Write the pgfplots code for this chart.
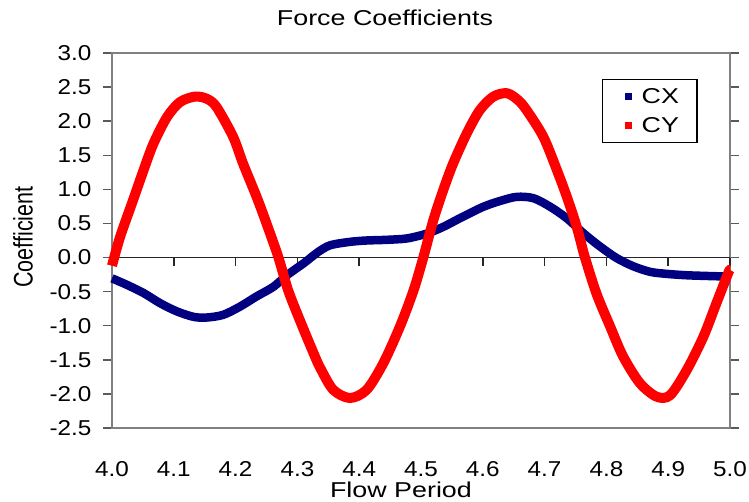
\documentclass[border=0pt]{standalone}
\usepackage{fontspec}
\setmainfont{Liberation Sans}
\newfontfamily\widefont{Liberation Sans}[FakeStretch=1.25]
\newfontfamily\tickfont{Liberation Sans}[FakeStretch=1.13]
\usepackage{pgfplots}
\pgfplotsset{compat=1.18}
\definecolor{cxblue}{HTML}{000080}
\definecolor{cyred}{HTML}{FF0000}
\definecolor{framegray}{HTML}{808080}

\pgfplotstableread{
t v
4.000 -0.12
4.013 0.30
4.034 0.84
4.051 1.28
4.067 1.67
4.089 2.06
4.110 2.28
4.134 2.36
4.153 2.33
4.169 2.21
4.196 1.77
4.212 1.38
4.234 0.89
4.250 0.50
4.269 0.01
4.285 -0.48
4.304 -0.92
4.326 -1.40
4.337 -1.62
4.358 -1.94
4.385 -2.06
4.412 -1.94
4.439 -1.55
4.466 -1.01
4.488 -0.48
4.504 0.01
4.520 0.55
4.536 0.99
4.552 1.38
4.574 1.82
4.595 2.16
4.617 2.36
4.639 2.41
4.657 2.31
4.671 2.16
4.698 1.77
4.720 1.28
4.736 0.89
4.752 0.45
4.765 0.01
4.784 -0.53
4.806 -1.01
4.827 -1.45
4.854 -1.84
4.881 -2.04
4.903 -2.02
4.930 -1.65
4.957 -1.16
4.978 -0.67
4.997 -0.23
5.000 -0.18
}\cydata

\pgfplotstableread{
t v
4.000 -0.305
4.024 -0.40
4.051 -0.52
4.078 -0.67
4.105 -0.79
4.132 -0.87
4.153 -0.88
4.180 -0.84
4.207 -0.72
4.234 -0.57
4.261 -0.43
4.283 -0.26
4.310 -0.085
4.326 0.03
4.334 0.085
4.353 0.18
4.385 0.23
4.412 0.25
4.445 0.26
4.477 0.28
4.509 0.35
4.536 0.45
4.568 0.60
4.601 0.745
4.628 0.83
4.655 0.89
4.682 0.87
4.709 0.745
4.736 0.575
4.763 0.355
4.790 0.16
4.817 -0.01
4.844 -0.13
4.871 -0.21
4.898 -0.24
4.930 -0.26
4.962 -0.27
5.000 -0.28
}\cxdata

\begin{document}
\begin{tikzpicture}[x=1pt,y=1pt]
\useasboundingbox (0,0) rectangle (749,502);
\begin{axis}[
  at={(112pt,74pt)}, anchor=south west,
  scale only axis, width=618pt, height=375pt,
  xmin=4, xmax=5, ymin=-2.5, ymax=3,
  clip=false,
  axis line style={framegray, line width=2.5pt},
  xtick={4,4.1,4.2,4.3,4.4,4.5,4.6,4.7,4.8,4.9,5},
  xticklabels={4.0,4.1,4.2,4.3,4.4,4.5,4.6,4.7,4.8,4.9,5.0},
  ytick={-2.5,-2,-1.5,-1,-0.5,0,0.5,1,1.5,2,2.5,3},
  yticklabels={-2.5,-2.0,-1.5,-1.0,-0.5,0.0,0.5,1.0,1.5,2.0,2.5,3.0},
  tick align=outside,
  major tick length=9pt,
  xtick style={draw=none},
  ytick style={framegray!70!black, line width=1.5pt},
  tick label style={font=\tickfont\fontsize{21.5}{21.5}\selectfont, text=black},
  xticklabel style={anchor=center, yshift=-32pt},
  yticklabel style={anchor=east, xshift=-8pt},
  title={Force Coefficients},
  title style={at={(0.4417,1)}, anchor=base, yshift=21pt, font=\widefont\fontsize{21.5}{21.5}\selectfont},
  xlabel={Flow Period},
  xlabel style={at={(0.4676,0)}, anchor=base, yshift=-70pt, font=\widefont\fontsize{21.5}{21.5}\selectfont},
  ylabel={\scalebox{1}[1.25]{Coefficient}},
  ylabel style={at={(-0.144,0.509)}, anchor=center, font=\fontsize{21.5}{21.5}\selectfont},
  legend style={at={(0.7929,0.9307)}, anchor=north west, draw=black, line width=1.2pt, fill=white,
    font=\widefont\fontsize{21.5}{21.5}\selectfont, inner xsep=16pt, inner ysep=7pt, row sep=8pt,
    cells={anchor=west}},
]
\draw[black!85, line width=1.5pt] (axis cs:4,0) -- (axis cs:5,0);
\pgfplotsinvokeforeach{4.1,4.2,4.3,4.4,4.5,4.6,4.7,4.8,4.9,5.0}{
  \draw[black!85, line width=1.5pt] (axis cs:#1,0) -- ++(0pt,-8pt);
}
\addplot[cxblue, line width=8.5pt, smooth, tension=0.5, line join=round,
  legend image code/.code={\path[draw=none, fill=none] (-6pt,0pt) (15pt,0pt); \path[fill=cxblue, draw=none, line width=0pt] (0pt,-3.5pt) rectangle (7pt,3.5pt);}]
  table[x=t, y=v] {\cxdata};
\addlegendentry{CX}
\addplot[cyred, line width=10pt, smooth, tension=0.5, line join=round,
  legend image code/.code={\path[draw=none, fill=none] (-6pt,0pt) (15pt,0pt); \path[fill=cyred, draw=none, line width=0pt] (0pt,-3.5pt) rectangle (7pt,3.5pt);}]
  table[x=t, y=v] {\cydata};
\addlegendentry{CY}
\end{axis}
\end{tikzpicture}
\end{document}
